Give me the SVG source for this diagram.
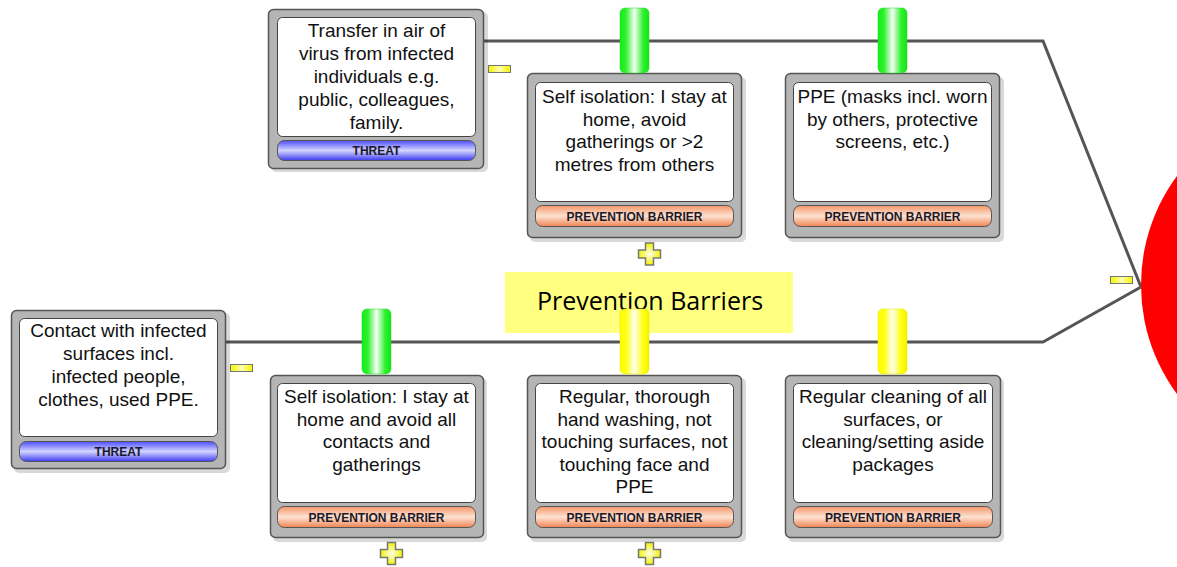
<svg xmlns="http://www.w3.org/2000/svg" width="1177" height="567" viewBox="0 0 1177 567">
<style>
.outer{fill:#b5b5b5;stroke:#555;stroke-width:1.5}
.shadow{fill:#000;opacity:0.15}
.inner{fill:#fff;stroke:#444;stroke-width:1}
.bar{stroke:#555;stroke-width:1}
.txt{font-family:"Liberation Sans",Arial,sans-serif;font-size:19px;fill:#111;text-anchor:middle}
.lbl{font-family:"Liberation Sans",Arial,sans-serif;font-size:12px;font-weight:bold;fill:#1a1a2a;text-anchor:middle}
.conn{fill:none;stroke:#555;stroke-width:3;stroke-linejoin:miter}
.minus{fill:url(#minusG);stroke:#777;stroke-width:1}
.plus{fill:url(#plusG);stroke:#777;stroke-width:1.5}
.tabG{fill:url(#greenG);stroke:#2bd32b;stroke-width:0.5}
.tabY{fill:url(#yellowG);stroke:#e0e000;stroke-width:0.5}
</style>
<defs>
<linearGradient id="barG" x1="0" y1="0" x2="0" y2="1">
<stop offset="0" stop-color="#f49668"/><stop offset="0.5" stop-color="#fde2d2"/><stop offset="1" stop-color="#f08452"/>
</linearGradient>
<linearGradient id="threatG" x1="0" y1="0" x2="0" y2="1">
<stop offset="0" stop-color="#4e4eff"/><stop offset="0.5" stop-color="#d4d4ff"/><stop offset="1" stop-color="#3c3cf0"/>
</linearGradient>
<linearGradient id="greenG" x1="0" y1="0" x2="1" y2="0">
<stop offset="0" stop-color="#10f010"/><stop offset="0.2" stop-color="#30f030"/><stop offset="0.5" stop-color="#f4fff4"/><stop offset="0.8" stop-color="#30f030"/><stop offset="1" stop-color="#10e810"/>
</linearGradient>
<linearGradient id="yellowG" x1="0" y1="0" x2="1" y2="0">
<stop offset="0" stop-color="#ffff00"/><stop offset="0.2" stop-color="#ffff10"/><stop offset="0.5" stop-color="#ffffee"/><stop offset="0.8" stop-color="#ffff10"/><stop offset="1" stop-color="#f4f400"/>
</linearGradient>
<linearGradient id="minusG" x1="0" y1="0" x2="1" y2="0">
<stop offset="0" stop-color="#f4f400"/><stop offset="0.5" stop-color="#ffffaa"/><stop offset="1" stop-color="#f4f400"/>
</linearGradient>
<radialGradient id="plusG" cx="0.5" cy="0.5" r="0.5">
<stop offset="0" stop-color="#ffffee"/><stop offset="1" stop-color="#f2f200"/>
</radialGradient>
<path id="plusShape" d="M-4,-11 H4 V-4 H11 V4 H4 V11 H-4 V4 H-11 V-4 H-4 Z"/>
</defs>
<rect width="1177" height="567" fill="#fff"/>

<g id="connectors">
<polyline class="conn" points="484,41 1043,41 1141,287"/>
<polyline class="conn" points="226,342 1043,342 1141,287"/>
</g>

<g id="consequence">
<circle cx="1324" cy="285" r="183" fill="#ff0000"/>
</g>

<g id="minus-icons">
<rect class="minus" x="488.5" y="65.5" width="22" height="7"/>
<rect class="minus" x="230.5" y="364.5" width="22" height="7"/>
<rect class="minus" x="1110.5" y="276.5" width="22" height="7"/>
</g>

<g id="threat1">
<rect class="shadow" x="271" y="12" width="217" height="160" rx="5"/>
<rect class="outer" x="268.5" y="9.5" width="215" height="159" rx="5"/>
<rect class="inner" x="277.5" y="17.5" width="198" height="119" rx="5"/>
<rect class="bar" x="277.5" y="140.5" width="198" height="20" rx="7" fill="url(#threatG)"/>
<text class="lbl" x="376.5" y="155">THREAT</text>
<text class="txt" x="376.5" y="37">Transfer in air of</text>
<text class="txt" x="376.5" y="60">virus from infected</text>
<text class="txt" x="376.5" y="83">individuals e.g.</text>
<text class="txt" x="376.5" y="106">public, colleagues,</text>
<text class="txt" x="376.5" y="129">family.</text>
</g>

<g id="threat2">
<rect class="shadow" x="14" y="313" width="216" height="160" rx="5"/>
<rect class="outer" x="11.5" y="310.5" width="214" height="158" rx="5"/>
<rect class="inner" x="19.5" y="318.5" width="198" height="118" rx="5"/>
<rect class="bar" x="19.5" y="441.5" width="198" height="20" rx="7" fill="url(#threatG)"/>
<text class="lbl" x="118.5" y="456">THREAT</text>
<text class="txt" x="118.5" y="337">Contact with infected</text>
<text class="txt" x="118.5" y="360">surfaces incl.</text>
<text class="txt" x="118.5" y="383">infected people,</text>
<text class="txt" x="118.5" y="406">clothes, used PPE.</text>
</g>

<g id="barrier-top-1">
<rect class="shadow" x="530" y="77" width="216" height="165" rx="5"/>
<rect class="outer" x="527.5" y="73.5" width="214" height="164" rx="5"/>
<rect class="inner" x="535.5" y="82.5" width="198" height="119" rx="5"/>
<rect class="bar" x="535.5" y="205.5" width="198" height="21" rx="7" fill="url(#barG)"/>
<text class="lbl" x="634.5" y="221">PREVENTION BARRIER</text>
<text class="txt" x="634.5" y="103">Self isolation: I stay at</text>
<text class="txt" x="634.5" y="125.5">home, avoid</text>
<text class="txt" x="634.5" y="148">gatherings or &gt;2</text>
<text class="txt" x="634.5" y="170.5">metres from others</text>
</g>

<g id="barrier-top-2">
<rect class="shadow" x="788" y="77" width="216" height="165" rx="5"/>
<rect class="outer" x="785.5" y="73.5" width="214" height="164" rx="5"/>
<rect class="inner" x="793.5" y="82.5" width="198" height="119" rx="5"/>
<rect class="bar" x="793.5" y="205.5" width="198" height="21" rx="7" fill="url(#barG)"/>
<text class="lbl" x="892.5" y="221">PREVENTION BARRIER</text>
<text class="txt" x="892.5" y="103">PPE (masks incl. worn</text>
<text class="txt" x="892.5" y="125.5">by others, protective</text>
<text class="txt" x="892.5" y="148">screens, etc.)</text>
</g>

<g id="barrier-bottom-1">
<rect class="shadow" x="273" y="378" width="214" height="164" rx="5"/>
<rect class="outer" x="270.5" y="375.5" width="213" height="162" rx="5"/>
<rect class="inner" x="277.5" y="383.5" width="198" height="119" rx="5"/>
<rect class="bar" x="277.5" y="506.5" width="198" height="21" rx="7" fill="url(#barG)"/>
<text class="lbl" x="376.5" y="522">PREVENTION BARRIER</text>
<text class="txt" x="376.5" y="403">Self isolation: I stay at</text>
<text class="txt" x="376.5" y="425.5">home and avoid all</text>
<text class="txt" x="376.5" y="448">contacts and</text>
<text class="txt" x="376.5" y="470.5">gatherings</text>
</g>

<g id="barrier-bottom-2">
<rect class="shadow" x="530" y="378" width="216" height="164" rx="5"/>
<rect class="outer" x="527.5" y="375.5" width="214" height="162" rx="5"/>
<rect class="inner" x="535.5" y="383.5" width="198" height="119" rx="5"/>
<rect class="bar" x="535.5" y="506.5" width="198" height="21" rx="7" fill="url(#barG)"/>
<text class="lbl" x="634.5" y="522">PREVENTION BARRIER</text>
<text class="txt" x="634.5" y="403">Regular, thorough</text>
<text class="txt" x="634.5" y="425.5">hand washing, not</text>
<text class="txt" x="634.5" y="448">touching surfaces, not</text>
<text class="txt" x="634.5" y="470.5">touching face and</text>
<text class="txt" x="634.5" y="493">PPE</text>
</g>

<g id="barrier-bottom-3">
<rect class="shadow" x="788" y="378" width="216" height="164" rx="5"/>
<rect class="outer" x="785.5" y="375.5" width="215" height="162" rx="5"/>
<rect class="inner" x="793.5" y="383.5" width="199" height="119" rx="5"/>
<rect class="bar" x="793.5" y="506.5" width="199" height="21" rx="7" fill="url(#barG)"/>
<text class="lbl" x="893" y="522">PREVENTION BARRIER</text>
<text class="txt" x="893" y="403">Regular cleaning of all</text>
<text class="txt" x="893" y="425.5">surfaces, or</text>
<text class="txt" x="893" y="448">cleaning/setting aside</text>
<text class="txt" x="893" y="470.5">packages</text>
</g>

<g id="plus-icons">
<use href="#plusShape" class="plus" x="649.5" y="254"/>
<use href="#plusShape" class="plus" x="391.5" y="553.5"/>
<use href="#plusShape" class="plus" x="649.5" y="553.5"/>
</g>

<g id="label-prevention-barriers">
<rect x="505" y="272" width="288" height="61" fill="#ffff80"/>
<text x="650" y="310" font-family="'Open Sans','Noto Sans',sans-serif" font-size="25" fill="#000" text-anchor="middle">Prevention Barriers</text>
</g>

<g id="tabs">
<rect class="tabG" x="620" y="8" width="29" height="65" rx="5"/>
<rect class="tabG" x="878" y="8" width="29" height="65" rx="5"/>
<rect class="tabG" x="362" y="309" width="29" height="65" rx="5"/>
<rect class="tabY" x="620" y="309" width="29" height="65" rx="5"/>
<rect class="tabY" x="878" y="309" width="29" height="65" rx="5"/>
</g>
</svg>
